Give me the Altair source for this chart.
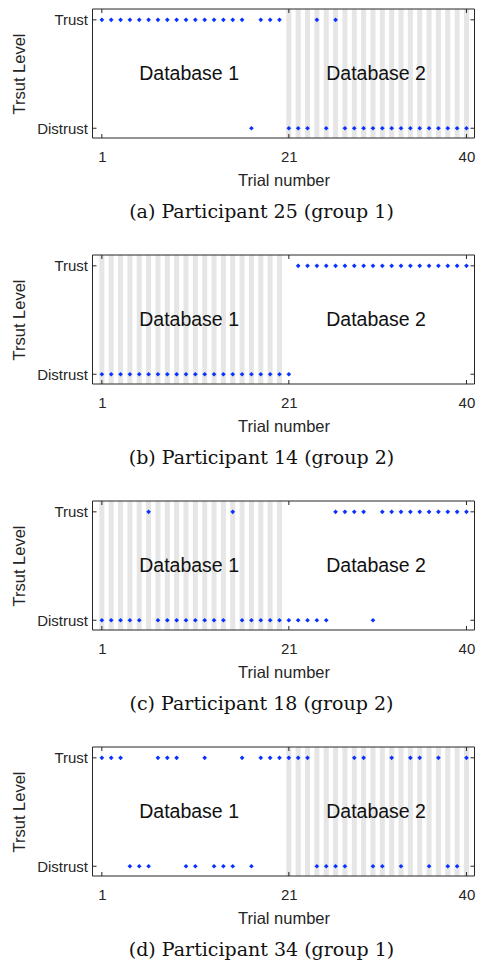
import altair as alt
import pandas as pd

# ---------------- data ----------------
trials = list(range(1, 41))
# 1 = Trust, 0 = Distrust, per trial 1..40
p25 = [1, 1, 1, 1, 1, 1, 1, 1, 1, 1, 1, 1, 1, 1, 1, 1, 0, 1, 1, 1,
       0, 0, 0, 1, 0, 1, 0, 0, 0, 0, 0, 0, 0, 0, 0, 0, 0, 0, 0, 0]
p14 = [0, 0, 0, 0, 0, 0, 0, 0, 0, 0, 0, 0, 0, 0, 0, 0, 0, 0, 0, 0,
       0, 1, 1, 1, 1, 1, 1, 1, 1, 1, 1, 1, 1, 1, 1, 1, 1, 1, 1, 1]
p18 = [0, 0, 0, 0, 0, 1, 0, 0, 0, 0, 0, 0, 0, 0, 1, 0, 0, 0, 0, 0,
       0, 0, 0, 0, 0, 1, 1, 1, 1, 0, 1, 1, 1, 1, 1, 1, 1, 1, 1, 1]
p34 = [1, 1, 1, 0, 0, 0, 1, 1, 1, 0, 0, 1, 0, 0, 0, 1, 0, 1, 1, 1,
       1, 1, 1, 0, 0, 0, 0, 1, 1, 0, 0, 1, 0, 1, 1, 0, 1, 0, 0, 1]
participants = [p25, p14, p18, p34]
captions = ["(a) Participant 25 (group 1)", "(b) Participant 14 (group 2)",
            "(c) Participant 18 (group 2)", "(d) Participant 34 (group 1)"]
shaded_db = [2, 1, 1, 2]
db_ranges = {1: (1, 20), 2: (21, 40)}
db_labels = ["Database 1", "Database 2"]
db_label_x = [5, 25]
db_label_y = [0.5, 0.5]
x_ticks = [1, 21, 40]
y_ticks = [0, 1]
y_tick_labels = ["Distrust", "Trust"]

# ---------------- style ----------------
W, H = 382, 129
FONT = "Liberation Sans"
TXT = "#262626"
xs = alt.Scale(domain=[0, 40.86], nice=False, zero=False)
ys = alt.Scale(domain=[-0.09, 1.1], nice=False, zero=False)
label_expr = f"datum.value == 1 ? '{y_tick_labels[1]}' : '{y_tick_labels[0]}'"

x_axis = alt.Axis(values=x_ticks, title="Trial number", ticks=False, tickSize=0,
                  labelPadding=11, titlePadding=8, labelFontSize=15,
                  titleFontSize=16.5, labelAngle=0, labelFlush=False)
y_axis = alt.Axis(values=y_ticks, labelExpr=label_expr, title="Trsut Level",
                  ticks=False, tickSize=0, labelPadding=5, titlePadding=9,
                  labelFontSize=15, titleFontSize=16.5)


def panel(levels, caption, shaded):
    pts = pd.DataFrame({"trial": trials, "level": levels})
    lo, hi = db_ranges[shaded]
    stripes_df = pd.DataFrame({"trial": list(range(lo, hi + 1))})

    stripes = alt.Chart(stripes_df).transform_calculate(
        a="datum.trial - 0.27", b="datum.trial + 0.27"
    ).mark_rect(color="#e6e6e6").encode(
        x=alt.X("a:Q", scale=xs, axis=x_axis), x2="b:Q",
        y=alt.value(0), y2=alt.value(H))

    frame = alt.Chart(pd.DataFrame({"k": [0]})).mark_rect(
        fill=None, filled=False, stroke=TXT, strokeWidth=1
    ).encode(x=alt.value(0), x2=alt.value(W), y=alt.value(0), y2=alt.value(H))

    xt = pd.DataFrame({"trial": x_ticks})
    yt = pd.DataFrame({"level": y_ticks})
    tick_b = alt.Chart(xt).mark_rule(color=TXT, strokeWidth=1).encode(
        x=alt.X("trial:Q", scale=xs, axis=x_axis), y=alt.value(H), y2=alt.value(H - 4))
    tick_t = alt.Chart(xt).mark_rule(color=TXT, strokeWidth=1).encode(
        x=alt.X("trial:Q", scale=xs, axis=x_axis), y=alt.value(0), y2=alt.value(4))
    tick_l = alt.Chart(yt).mark_rule(color=TXT, strokeWidth=1).encode(
        y=alt.Y("level:Q", scale=ys, axis=y_axis), x=alt.value(0), x2=alt.value(4))
    tick_r = alt.Chart(yt).mark_rule(color=TXT, strokeWidth=1).encode(
        y=alt.Y("level:Q", scale=ys, axis=y_axis), x=alt.value(W), x2=alt.value(W - 4))

    points = alt.Chart(pts).mark_point(
        shape="diamond", filled=True, size=22, color="#0a32ff", opacity=1
    ).encode(
        x=alt.X("trial:Q", scale=xs, axis=x_axis),
        y=alt.Y("level:Q", scale=ys, axis=y_axis),
    )

    txt_df = pd.DataFrame({"trial": db_label_x, "level": db_label_y, "label": db_labels})
    txt = alt.Chart(txt_df).mark_text(
        align="left", baseline="middle", font=FONT, fontSize=19.5, color="#111111"
    ).encode(x=alt.X("trial:Q", scale=xs, axis=x_axis),
             y=alt.Y("level:Q", scale=ys, axis=y_axis), text="label:N")

    return alt.layer(stripes, frame, tick_b, tick_t, tick_l, tick_r, points, txt).properties(
        width=W, height=H,
        title=alt.TitleParams(caption, orient="bottom", font="DejaVu Serif",
                              fontSize=19, fontWeight="normal", color="#111111",
                              anchor="middle", frame="group", dx=-22, offset=14.5))


panels = []
for p, c, s in zip(participants, captions, shaded_db):
    panels.append(panel(p, c, s))

chart = alt.vconcat(*panels, spacing=32).properties(
    padding={"left": 3.5, "top": 0, "right": 0, "bottom": 0}
).configure_view(stroke=None).configure_axis(
    grid=False, domain=False, labelFont=FONT, titleFont=FONT,
    labelColor=TXT, titleColor=TXT, titleFontWeight="normal"
)

chart.save("out.html", embed_options={"renderer": "svg", "actions": False})
